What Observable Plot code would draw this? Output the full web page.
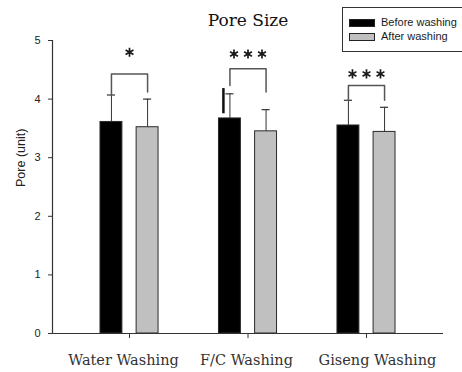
<!DOCTYPE html>
<html>
<head>
<meta charset="utf-8">
<script src="https://cdn.jsdelivr.net/npm/d3@7"></script>
<script src="https://cdn.jsdelivr.net/npm/@observablehq/plot@0.6"></script>
<style>
  html, body { margin: 0; padding: 0; background: #fff; }
  #wrap { position: relative; width: 462px; height: 372px; overflow: hidden; }
  #legend { position: absolute; left: 342px; top: 7px; width: 130px; height: 45px; border: 1px solid #333; box-sizing: border-box; font-family: "Liberation Sans", Arial, sans-serif; font-size: 11px; color: #1a1a1a; }
  .item { position: absolute; left: 6px; height: 9px; }
  .sw { position: absolute; left: 0; top: 0; width: 26px; height: 8px; box-sizing: border-box; border: 1px solid #222; }
  .lb { position: absolute; left: 32px; top: -3.5px; white-space: nowrap; }
</style>
</head>
<body>
<div id="wrap"><div id="chart"></div>
<div id="legend"></div></div>
<script>
const categories = ["Water Washing", "F/C Washing", "Giseng Washing"];
const seriesNames = ["Before washing", "After washing"];
const beforeValues = [3.61, 3.67, 3.55];
const afterValues = [3.52, 3.45, 3.44];
const beforeErr = [0.46, 0.42, 0.43];
const afterErr = [0.48, 0.37, 0.42];
const significance = ["*", "***", "***"];
const bracketTop = [4.43, 4.52, 4.23];
const bracketLeftEnd = [4.07, 4.23, 3.98];
const bracketRightEnd = [4.12, 4.12, 3.98];
const starLevel = [4.80, 4.77, 4.43];
const yTicks = [0, 1, 2, 3, 4, 5];
const extraStroke = [{cat: 1, y1: 3.75, y2: 4.18}];

const colors = {"Before washing": "#000000", "After washing": "#c0c0c0"};
const HALF_GAP = 0.06, BAR_W = 0.185, CAP = 0.034;
const labelShift = [-6, -1.5, 11];

const rows = [];
categories.forEach((c, i) => {
  rows.push({i, series: seriesNames[0], v: beforeValues[i], e: beforeErr[i], s: -1});
  rows.push({i, series: seriesNames[1], v: afterValues[i], e: afterErr[i], s: 1});
});
const center = d => d.i + d.s * (HALF_GAP + BAR_W / 2);

const brackets = [];
categories.forEach((c, i) => {
  const l = i - (HALF_GAP + BAR_W / 2), r = i + (HALF_GAP + BAR_W / 2);
  brackets.push({i, x: l, y: bracketLeftEnd[i]});
  brackets.push({i, x: l, y: bracketTop[i]});
  brackets.push({i, x: r, y: bracketTop[i]});
  brackets.push({i, x: r, y: bracketRightEnd[i]});
});
const stars = [];
categories.forEach((c, i) => {
  const n = significance[i].length;
  for (let k = 0; k < n; k++) stars.push({i, y: starLevel[i], off: (k - (n - 1) / 2) * 14});
});
const offsets = [-14, 0, 14];

const chart = Plot.plot({
  width: 462, height: 372,
  marginTop: 40, marginBottom: 39, marginLeft: 52, marginRight: 19,
  x: {domain: [-0.65, 2.65]},
  y: {domain: [0, 5]},
  style: {background: "white", fontFamily: "Liberation Sans, Arial, sans-serif", color: "#222"},
  marks: [
    Plot.rect(rows, {x1: d => center(d) - BAR_W / 2, x2: d => center(d) + BAR_W / 2, y1: 0, y2: "v",
      fill: d => colors[d.series], stroke: "#2a2a2a", strokeWidth: 1}),
    Plot.ruleX(rows, {x: center, y1: "v", y2: d => d.v + d.e, stroke: "#333", strokeWidth: 1}),
    Plot.ruleY(rows, {y: d => d.v + d.e, x1: d => center(d) - CAP, x2: d => center(d) + CAP, stroke: "#333", strokeWidth: 1.2}),
    Plot.ruleX(extraStroke, {x: d => d.cat - (HALF_GAP + BAR_W / 2) - 0.055, y1: "y1", y2: "y2", stroke: "#111", strokeWidth: 2.5}),
    Plot.line(brackets, {x: "x", y: "y", z: "i", stroke: "#555", strokeWidth: 1.5}),
    ...offsets.map(k => Plot.dot(stars.filter(s => s.off === k), {x: "i", y: "y", dx: k, symbol: "asterisk", r: 4.3, stroke: "#1a1a1a", strokeWidth: 1.7})),
    Plot.ruleY([0], {stroke: "#333", strokeWidth: 1.2}),
    Plot.ruleX([-0.65], {stroke: "#333", strokeWidth: 1.2}),
    Plot.axisY({ticks: yTicks, tickFormat: "d", tickSize: 4, tickPadding: 8, fontSize: 11, label: null, stroke: "#333", fill: "#222"}),
    Plot.axisX({ticks: [0, 1, 2], tickFormat: () => "", tickSize: 5, label: null, stroke: "#333"}),
    ...categories.map((c, i) => Plot.text([c], {x: () => i, frameAnchor: "bottom", dx: labelShift[i], dy: 31, lineAnchor: "bottom",
      fontSize: 14.5, fontFamily: "DejaVu Serif, serif", fill: "#333"})),
    Plot.text(["Pore (unit)"], {frameAnchor: "left", dx: -32, rotate: -90, fontSize: 12.5, fill: "#222"}),
    Plot.text(["Pore Size"], {frameAnchor: "top", dy: -15, lineAnchor: "bottom", fontSize: 17, fontFamily: "DejaVu Serif, serif", fill: "#111"})
  ]
});
document.getElementById("chart").appendChild(chart);

const legend = document.getElementById("legend");
seriesNames.forEach((name, k) => {
  const item = document.createElement("div");
  item.className = "item";
  item.style.top = (11 + k * 14) + "px";
  const sw = document.createElement("div");
  sw.className = "sw";
  sw.style.background = colors[name];
  const lb = document.createElement("div");
  lb.className = "lb";
  lb.textContent = name;
  item.appendChild(sw); item.appendChild(lb);
  legend.appendChild(item);
});
</script>
</body>
</html>
